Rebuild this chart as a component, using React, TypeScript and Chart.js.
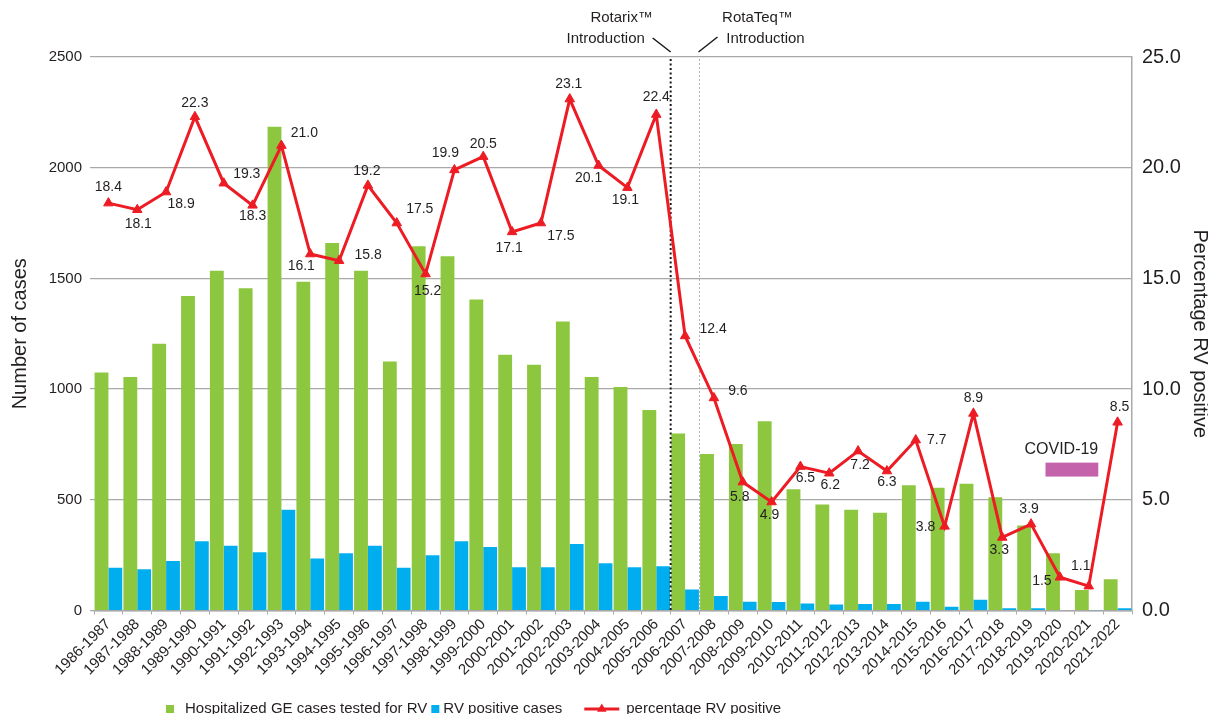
import React, { useEffect, useRef } from "react";
import { Chart, registerables } from "chart.js";

Chart.register(...registerables);

const FONT = "Arial, 'Liberation Sans', Helvetica, sans-serif";
const TEXT = "#231f20";
const GREEN = "#8dc63f";
const BLUE = "#00aeef";
const RED = "#ed1c24";
const GRID = "#a9a9a9";

const seasons = [
  "1986-1987", "1987-1988", "1988-1989", "1989-1990", "1990-1991", "1991-1992",
  "1992-1993", "1993-1994", "1994-1995", "1995-1996", "1996-1997", "1997-1998",
  "1998-1999", "1999-2000", "2000-2001", "2001-2002", "2002-2003", "2003-2004",
  "2004-2005", "2005-2006", "2006-2007", "2007-2008", "2008-2009", "2009-2010",
  "2010-2011", "2011-2012", "2012-2013", "2013-2014", "2014-2015", "2015-2016",
  "2016-2017", "2017-2018", "2018-2019", "2019-2020", "2020-2021", "2021-2022",
];

const testedCases = [
  1075, 1055, 1205, 1420, 1535, 1455, 2185, 1485, 1660, 1535, 1125, 1645,
  1600, 1405, 1155, 1110, 1305, 1055, 1010, 906, 800, 707, 752, 855,
  548, 479, 455, 441, 566, 554, 572, 512, 384, 259, 93, 141,
];

const positiveCases = [
  193, 186, 224, 313, 293, 263, 455, 235, 259, 292, 193, 250,
  313, 287, 195, 195, 300, 213, 195, 200, 95, 65, 39, 38,
  32, 27, 29, 29, 39, 17, 48, 10, 10, 2, 1, 10,
];

const percentPositive = [
  18.4, 18.1, 18.9, 22.3, 19.3, 18.3, 21.0, 16.1, 15.8, 19.2, 17.5, 15.2,
  19.9, 20.5, 17.1, 17.5, 23.1, 20.1, 19.1, 22.4, 12.4, 9.6, 5.8, 4.9,
  6.5, 6.2, 7.2, 6.3, 7.7, 3.8, 8.9, 3.3, 3.9, 1.5, 1.1, 8.5,
];

const leftAxisTicks = [0, 500, 1000, 1500, 2000, 2500];
const rightAxisTicks = [0, 5, 10, 15, 20, 25];

const legendLabels = [
  "Hospitalized GE cases tested for RV",
  "RV positive cases",
  "percentage RV positive",
];

// label placement (dx, dy in px) for each percentage label
const labelOffsets = [
  [0, -16], [1, 14], [15, 12], [0, -14], [23, -9], [0, 11],
  [23, -12], [-9, 12], [29, -6], [-1, -14], [23, -14], [2, 17],
  [-9, -17], [0, -12], [-3, 16], [20, 13], [-1, -15], [-10, 13],
  [-2, 13], [0, -17], [28, -7], [24, -7], [-3, 15], [-2, 13],
  [5, 12], [1, 12], [2, 14], [0, 11], [21, 0], [-19, 1],
  [0, -15], [-3, 13], [-2, -15], [-18, 4], [-8, -20], [2, -15],
];

const rotarixIndex = 19.5; // boundary after 2005-2006
const rotateqIndex = 20.5; // boundary after 2006-2007
const covidBox = { x0: 32.5, x1: 34.33, y0: 6.05, y1: 6.68, labelY: 7.27 };

const annotationPlugin = {
  id: "annotations",
  beforeDatasetDraw(chart: any, args: any) {
    if (args.index !== 0) return;
    const { ctx, chartArea, scales } = chart;
    const xs = scales.x;
    ctx.save();
    const xr = xs.getPixelForValue(rotarixIndex);
    const xt = xs.getPixelForValue(rotateqIndex);
    ctx.beginPath();
    ctx.setLineDash([2, 2.5]);
    ctx.lineWidth = 2;
    ctx.strokeStyle = "#1a1a1a";
    ctx.moveTo(xr, chartArea.top + 2);
    ctx.lineTo(xr, chartArea.bottom);
    ctx.stroke();
    ctx.beginPath();
    ctx.setLineDash([2, 2]);
    ctx.lineWidth = 1;
    ctx.strokeStyle = "#b0b0b0";
    ctx.moveTo(xt, chartArea.top + 2);
    ctx.lineTo(xt, chartArea.bottom);
    ctx.stroke();
    ctx.restore();
  },
  afterDatasetsDraw(chart: any) {
    const { ctx, chartArea, scales } = chart;
    const xs = scales.x;
    const ys = scales.y1;
    ctx.save();
    const meta = chart.getDatasetMeta(0);
    ctx.font = `14px ${FONT}`;
    ctx.fillStyle = TEXT;
    ctx.textAlign = "center";
    ctx.textBaseline = "middle";
    meta.data.forEach((pt: any, i: number) => {
      const [dx, dy] = labelOffsets[i];
      ctx.fillText(percentPositive[i].toFixed(1), pt.x + dx, pt.y + dy);
    });
    const bx0 = xs.getPixelForValue(covidBox.x0);
    const bx1 = xs.getPixelForValue(covidBox.x1);
    const by0 = ys.getPixelForValue(covidBox.y1);
    const by1 = ys.getPixelForValue(covidBox.y0);
    ctx.fillStyle = "#c462ac";
    ctx.fillRect(bx0, by0, bx1 - bx0, by1 - by0);
    ctx.fillStyle = TEXT;
    ctx.font = `16px ${FONT}`;
    ctx.textAlign = "right";
    ctx.fillText("COVID-19", bx1, ys.getPixelForValue(covidBox.labelY));

    const xr = xs.getPixelForValue(rotarixIndex);
    const xt = xs.getPixelForValue(rotateqIndex);
    const top = chartArea.top;
    ctx.setLineDash([]);
    ctx.strokeStyle = "#1a1a1a";
    ctx.lineWidth = 1.5;
    ctx.beginPath();
    ctx.moveTo(xr - 18, top - 19);
    ctx.lineTo(xr, top - 5);
    ctx.moveTo(xt + 18, top - 20);
    ctx.lineTo(xt - 1, top - 5);
    ctx.stroke();
    ctx.font = `15px ${FONT}`;
    ctx.textAlign = "center";
    ctx.fillStyle = TEXT;
    ctx.fillText("Rotarix\u2122", xr - 49, top - 39);
    ctx.fillText("Introduction", xr - 65, top - 18);
    ctx.fillText("RotaTeq\u2122", xt + 58, top - 39);
    ctx.fillText("Introduction", xt + 66, top - 18);
    ctx.restore();
  },
  afterDraw(chart: any) {
    const { ctx, chartArea } = chart;
    ctx.save();
    ctx.font = `15px ${FONT}`;
    ctx.textBaseline = "middle";
    ctx.textAlign = "left";
    const y = chart.height - 5;
    let x = chartArea.left + 72;
    ctx.fillStyle = GREEN;
    ctx.fillRect(x, y - 4, 8, 8);
    x += 19;
    ctx.fillStyle = TEXT;
    ctx.fillText(legendLabels[0], x, y);
    x += ctx.measureText(legendLabels[0]).width + 4;
    ctx.fillStyle = BLUE;
    ctx.fillRect(x, y - 4, 8, 8);
    x += 12;
    ctx.fillStyle = TEXT;
    ctx.fillText(legendLabels[1], x, y);
    x += ctx.measureText(legendLabels[1]).width + 22;
    ctx.strokeStyle = RED;
    ctx.lineWidth = 3;
    ctx.beginPath();
    ctx.moveTo(x, y);
    ctx.lineTo(x + 35, y);
    ctx.stroke();
    const cx = x + 17.5;
    const r = 5.5;
    ctx.fillStyle = RED;
    ctx.beginPath();
    ctx.moveTo(cx, y - r);
    ctx.lineTo(cx + r * 0.866, y + r * 0.5);
    ctx.lineTo(cx - r * 0.866, y + r * 0.5);
    ctx.closePath();
    ctx.fill();
    x += 42;
    ctx.fillStyle = TEXT;
    ctx.fillText(legendLabels[2], x, y);
    ctx.restore();
  },
};

export default function App() {
  const canvasRef = useRef<HTMLCanvasElement | null>(null);

  useEffect(() => {
    if (!canvasRef.current) return;
    Chart.defaults.font.family = FONT;
    Chart.defaults.color = TEXT;
    const chart = new Chart(canvasRef.current, {
      type: "bar",
      data: {
        labels: seasons,
        datasets: [
          {
            type: "line",
            label: legendLabels[2],
            data: percentPositive,
            yAxisID: "y1",
            borderColor: RED,
            backgroundColor: RED,
            borderWidth: 3,
            pointStyle: "triangle",
            pointRadius: 5.5,
            pointBackgroundColor: RED,
            pointBorderColor: RED,
            pointBorderWidth: 1,
            tension: 0,
            order: 0,
          } as any,
          {
            type: "bar",
            label: legendLabels[0],
            data: testedCases,
            yAxisID: "y",
            backgroundColor: GREEN,
            borderWidth: 0,
            categoryPercentage: 0.96,
            barPercentage: 1.0,
            order: 1,
          },
          {
            type: "bar",
            label: legendLabels[1],
            data: positiveCases,
            yAxisID: "y",
            backgroundColor: BLUE,
            borderWidth: 0,
            categoryPercentage: 0.96,
            barPercentage: 1.0,
            order: 1,
          },
        ],
      },
      options: {
        animation: false,
        responsive: false,
        layout: { padding: { top: 49, left: 0, right: 0, bottom: 0 } },
        plugins: {
          legend: { display: false },
          tooltip: { enabled: false },
        },
        scales: {
          x: {
            type: "category",
            offset: true,
            grid: {
              offset: true,
              drawOnChartArea: false,
              drawTicks: true,
              tickLength: 4,
              color: GRID,
            },
            border: { display: true, color: GRID, width: 1.5 },
            ticks: {
              autoSkip: false,
              minRotation: 45,
              maxRotation: 45,
              padding: 1,
              color: TEXT,
              font: { size: 15 },
            },
            afterFit: (s: any) => {
              s.height = 103.5;
            },
          },
          y: {
            type: "linear",
            position: "left",
            min: leftAxisTicks[0],
            max: leftAxisTicks[leftAxisTicks.length - 1],
            afterBuildTicks: (s: any) => {
              s.ticks = leftAxisTicks.map((v) => ({ value: v }));
            },
            grid: { color: GRID, lineWidth: 1.2, drawTicks: true, tickLength: 4 },
            border: { display: false },
            ticks: {
              color: TEXT,
              font: { size: 15 },
              padding: 8,
              callback: (v: any) => String(v),
            },
            title: {
              display: true,
              text: "Number of cases",
              color: TEXT,
              font: { size: 20 },
              padding: { top: 0, bottom: 0 },
            },
            afterFit: (s: any) => {
              s.width = 86;
            },
          },
          y1: {
            type: "linear",
            position: "right",
            min: rightAxisTicks[0],
            max: rightAxisTicks[rightAxisTicks.length - 1],
            afterBuildTicks: (s: any) => {
              s.ticks = rightAxisTicks.map((v) => ({ value: v }));
            },
            grid: { drawOnChartArea: false, drawTicks: false },
            border: { display: true, color: GRID, width: 1.5 },
            ticks: {
              color: TEXT,
              font: { size: 20 },
              padding: 10,
              callback: (v: any) => Number(v).toFixed(1),
            },
            title: {
              display: true,
              text: "Percentage RV positive",
              color: TEXT,
              font: { size: 20, lineHeight: 0.8 },
              padding: { top: 0, bottom: 0 },
            },
            afterFit: (s: any) => {
              s.width = 76;
            },
          },
        },
      },
      plugins: [annotationPlugin],
    });
    return () => chart.destroy();
  }, []);

  return (
    <div style={{ width: 1200, height: 706 }}>
      <canvas ref={canvasRef} width={1200} height={706} />
    </div>
  );
}
